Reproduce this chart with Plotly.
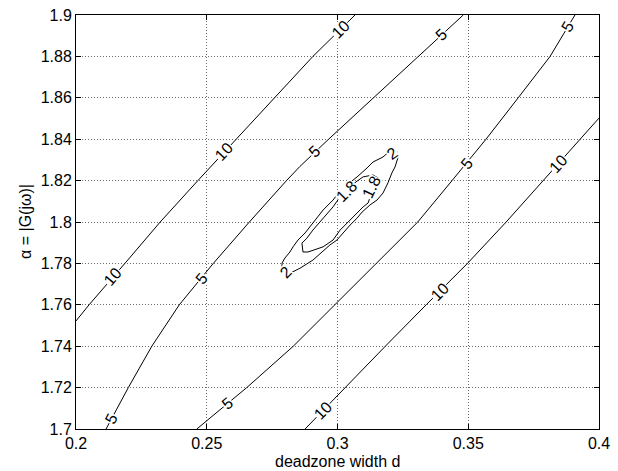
import math
import plotly.graph_objects as go

# ---------------- data ----------------
# Contour lines of the cost surface: x = deadzone width d, y = alpha = |G(jw)|
c10_upper_d = [0.2000, 0.2050, 0.2187, 0.2322, 0.2466, 0.2613, 0.2759, 0.2906, 0.3067]
c10_upper_alpha = [1.7522, 1.7600, 1.7800, 1.8000, 1.8200, 1.8400, 1.8600, 1.8800, 1.9000]

c5_upper_d = [0.2115, 0.2200, 0.2290, 0.2395, 0.2525, 0.2663, 0.2805, 0.2856, 0.2966, 0.3137, 0.3311, 0.3481]
c5_upper_alpha = [1.7000, 1.7200, 1.7400, 1.7600, 1.7800, 1.8000, 1.8200, 1.8268, 1.8400, 1.8600, 1.8800, 1.9000]

c5_lower_d = [0.2462, 0.2653, 0.2831, 0.2990, 0.3148, 0.3307, 0.3438, 0.3568, 0.3691, 0.3813, 0.3908]
c5_lower_alpha = [1.7000, 1.7200, 1.7400, 1.7600, 1.7800, 1.8000, 1.8200, 1.8400, 1.8600, 1.8800, 1.9000]

c10_lower_d = [0.2876, 0.3028, 0.3183, 0.3339, 0.3497, 0.3645, 0.3786, 0.3927, 0.4000]
c10_lower_alpha = [1.7000, 1.7200, 1.7400, 1.7600, 1.7800, 1.8000, 1.8200, 1.8400, 1.8502]

c2_loop_d = [0.3228, 0.3231, 0.3220, 0.3208, 0.3193, 0.3174, 0.3151, 0.3124, 0.3094, 0.3075,
             0.3048, 0.3021, 0.2998, 0.2971, 0.2922, 0.2906, 0.2857, 0.2811, 0.2788, 0.2788,
             0.2799, 0.2818, 0.2830, 0.2849, 0.2876, 0.2906, 0.2945, 0.2983, 0.2998, 0.3036,
             0.3075, 0.3113, 0.3136, 0.3174, 0.3201, 0.3228]
c2_loop_alpha = [1.8339, 1.8310, 1.8266, 1.8237, 1.8189, 1.8140, 1.8106, 1.8082, 1.8048, 1.8019,
                 1.7985, 1.7947, 1.7913, 1.7889, 1.7831, 1.7816, 1.7777, 1.7748, 1.7768, 1.7802,
                 1.7826, 1.7855, 1.7880, 1.7913, 1.7947, 1.7995, 1.8058, 1.8106, 1.8131, 1.8179,
                 1.8218, 1.8261, 1.8290, 1.8314, 1.8344, 1.8339]

c18_loop_d = [0.3098, 0.3136, 0.3155, 0.3147, 0.3132, 0.3117, 0.3098, 0.3067, 0.3040, 0.3010,
              0.2983, 0.2945, 0.2887, 0.2868, 0.2864, 0.2883, 0.2906, 0.2933, 0.2983, 0.3010,
              0.3036, 0.3071, 0.3098]
c18_loop_alpha = [1.8218, 1.8227, 1.8213, 1.8184, 1.8145, 1.8092, 1.8073, 1.8034, 1.7995, 1.7961,
                  1.7913, 1.7880, 1.7855, 1.7855, 1.7898, 1.7922, 1.7961, 1.8000, 1.8073, 1.8122,
                  1.8155, 1.8194, 1.8218]

contour_levels = ["10", "5", "5", "10", "2", "1.8"]
contour_d = [c10_upper_d, c5_upper_d, c5_lower_d, c10_lower_d, c2_loop_d, c18_loop_d]
contour_alpha = [c10_upper_alpha, c5_upper_alpha, c5_lower_alpha, c10_lower_alpha, c2_loop_alpha, c18_loop_alpha]

# inline contour labels
label_text = ["10", "10", "10", "5", "5", "5", "5", "5", "5", "5", "10", "10", "10", "2", "2", "1.8", "1.8"]
label_d = [0.2141, 0.2566, 0.3012, 0.2136, 0.2480, 0.2912, 0.3398, 0.2579, 0.3494, 0.3880,
           0.2945, 0.3393, 0.3845, 0.3210, 0.2800, 0.3035, 0.3130]
label_alpha = [1.7735, 1.8340, 1.8929, 1.7050, 1.7728, 1.8340, 1.8905, 1.7123, 1.8284, 1.8945,
               1.7090, 1.7663, 1.8284, 1.8330, 1.7758, 1.8145, 1.8165]

x_tickvals = [0.2, 0.25, 0.3, 0.35, 0.4]
x_ticktext = ["0.2", "0.25", "0.3", "0.35", "0.4"]
y_tickvals = [1.7, 1.72, 1.74, 1.76, 1.78, 1.8, 1.82, 1.84, 1.86, 1.88, 1.9]
y_ticktext = ["1.7", "1.72", "1.74", "1.76", "1.78", "1.8", "1.82", "1.84", "1.86", "1.88", "1.9"]

x_title = "deadzone width d"
y_title = "α = |G(jω)|"

# ---------------- layout constants ----------------
W, H = 618, 471
ML, MR, MT, MB = 76, 19, 15, 42
XR = (0.2, 0.4)
YR = (1.7, 1.9)
PW, PH = W - ML - MR, H - MT - MB
FONT = "Liberation Sans, Arial, Helvetica, sans-serif"


def label_angle(level, d, a):
    """Angle of the contour of `level` nearest to (d, a), in screen degrees."""
    sx = PW / (XR[1] - XR[0])
    sy = PH / (YR[1] - YR[0])
    best = None
    for lev, xs, ys in zip(contour_levels, contour_d, contour_alpha):
        if lev != level:
            continue
        for i in range(len(xs) - 1):
            x1, y1 = xs[i] * sx, ys[i] * sy
            x2, y2 = xs[i + 1] * sx, ys[i + 1] * sy
            px, py = d * sx, a * sy
            vx, vy = x2 - x1, y2 - y1
            L2 = vx * vx + vy * vy
            t = 0 if L2 == 0 else max(0, min(1, ((px - x1) * vx + (py - y1) * vy) / L2))
            dist = math.hypot(px - (x1 + t * vx), py - (y1 + t * vy))
            if best is None or dist < best[0]:
                best = (dist, vx, vy)
    ang = math.degrees(math.atan2(best[2], best[1]))
    if ang > 90:
        ang -= 180
    elif ang <= -90:
        ang += 180
    return -ang


fig = go.Figure()
for lev, xs, ys in zip(contour_levels, contour_d, contour_alpha):
    fig.add_trace(go.Scatter(x=xs, y=ys, mode="lines", name=lev,
                             line=dict(color="black", width=1),
                             showlegend=False, hoverinfo="skip"))

angle_override = {13: -35, 14: -45}
for i, (t, d, a) in enumerate(zip(label_text, label_d, label_alpha)):
    ang = angle_override.get(i, label_angle(t, d, a))
    fig.add_annotation(x=d, y=a, text=t, showarrow=False, textangle=ang,
                       xanchor="center", yanchor="middle",
                       bgcolor="white", borderpad=0, height=13,
                       font=dict(family=FONT, size=16, color="black"))

# axis titles (placed as in the reference)
fig.add_annotation(xref="paper", yref="paper", x=0.5, y=0, yanchor="bottom",
                   yshift=-MB, borderpad=0, text=x_title, showarrow=False,
                   font=dict(family=FONT, size=16, color="black"))
fig.add_annotation(xref="paper", yref="paper", x=0, y=0.5, xanchor="center",
                   xshift=-(ML - 25), borderpad=0, text=y_title, textangle=-90,
                   showarrow=False, font=dict(family=FONT, size=16, color="black"))

axis_common = dict(
    showline=True, linecolor="black", linewidth=1, mirror="ticks",
    ticks="inside", ticklen=5, tickcolor="black", tickwidth=1,
    showgrid=True, gridcolor="#6a6a6a", griddash="1px,2px", gridwidth=1,
    zeroline=False, tickfont=dict(family=FONT, size=16, color="black"),
)

fig.update_xaxes(range=list(XR), tickvals=x_tickvals, ticktext=x_ticktext, **axis_common)
fig.update_yaxes(range=list(YR), tickvals=y_tickvals, ticktext=y_ticktext, **axis_common)

fig.update_layout(width=W, height=H,
                  margin=dict(l=ML, r=MR, t=MT, b=MB, autoexpand=False),
                  paper_bgcolor="white", plot_bgcolor="white",
                  font=dict(family=FONT, size=16, color="black"))

# the page's default body margin would shift the figure; remove it
fig.write_html("out.html", config={"displayModeBar": False},
               post_script="document.body.style.margin='0px';")
